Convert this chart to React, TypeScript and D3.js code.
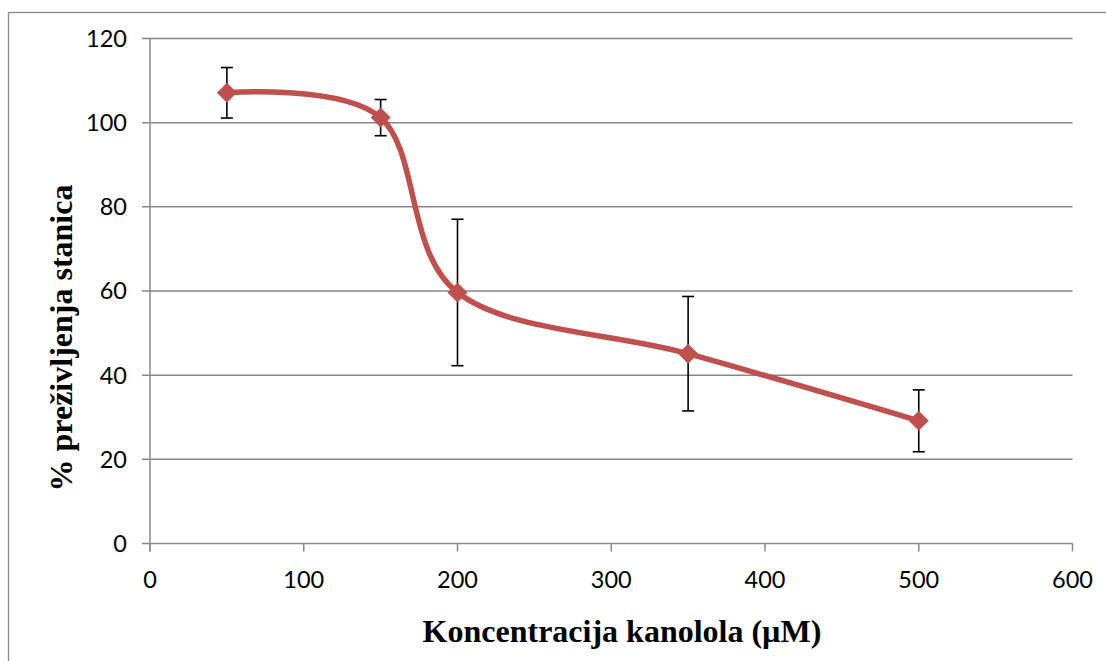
import React from "react";
import * as d3 from "d3";

const concentrations = [50, 150, 200, 350, 500];
const survival = [107.1, 101.2, 59.65, 45.1, 29.15];
const errors = [6.0, 4.3, 17.4, 13.6, 7.35];
const xTicks = [0, 100, 200, 300, 400, 500, 600];
const yTicks = [0, 20, 40, 60, 80, 100, 120];
const xTitle = "Koncentracija kanolola (µM)";
const yTitle = "% preživljenja stanica";

const W = 1106;
const H = 661;

export default function App() {
  const x = d3.scaleLinear().domain([0, 600]).range([150, 1072.5]);
  const y = d3.scaleLinear().domain([0, 120]).range([543.5, 38.5]);
  const pts = concentrations.map((c, i) => [x(c), y(survival[i])] as [number, number]);
  const line = d3.line().curve(d3.curveCardinal.tension(0));
  const grid = "#878787";
  const red = "#C0504D";
  const tickFont = "Lato, 'Open Sans', sans-serif";
  const titleFont = "'Liberation Serif', 'Times New Roman', serif";
  const m = 10;
  return (
    <svg width={W} height={H} style={{ position: "absolute", left: 0, top: 0, background: "#fff" }}>
      <rect x={8.5} y={12.5} width={1200} height={800} fill="#fff" stroke="#8a8a8a" strokeWidth={1.3} />
      {yTicks.map((t) => (
        <g key={"y" + t}>
          <line x1={142} x2={x(600)} y1={y(t)} y2={y(t)} stroke={grid} strokeWidth={1.5} />
          <text x={127} y={y(t)} dy="0.36em" textAnchor="end" fontFamily={tickFont} fontSize={23.5} fill="#000">
            {t}
          </text>
        </g>
      ))}
      <line x1={x(0)} x2={x(0)} y1={y(120)} y2={y(0) + 8} stroke={grid} strokeWidth={1.5} />
      {xTicks.map((t) => (
        <g key={"x" + t}>
          <line x1={x(t)} x2={x(t)} y1={y(0)} y2={y(0) + 8} stroke={grid} strokeWidth={1.5} />
          <text x={x(t)} y={588} textAnchor="middle" fontFamily={tickFont} fontSize={23.5} fill="#000">
            {t}
          </text>
        </g>
      ))}
      <path d={line(pts) || ""} fill="none" stroke={red} strokeWidth={5.5} strokeLinejoin="round" strokeLinecap="round" />
      {concentrations.map((c, i) => {
        const cx = x(c);
        const top = y(survival[i] + errors[i]);
        const bot = y(survival[i] - errors[i]);
        return (
          <g key={"e" + c}>
            <line x1={cx} x2={cx} y1={top} y2={bot} stroke="#000" strokeWidth={1.6} />
            <line x1={cx - 6} x2={cx + 6} y1={top} y2={top} stroke="#000" strokeWidth={1.6} />
            <line x1={cx - 6} x2={cx + 6} y1={bot} y2={bot} stroke="#000" strokeWidth={1.6} />
          </g>
        );
      })}
      {pts.map(([px, py], i) => (
        <path
          key={"m" + i}
          d={`M${px},${py - m}L${px + m},${py}L${px},${py + m}L${px - m},${py}Z`}
          fill={red}
        />
      ))}
      <text x={622} y={642} textAnchor="middle" fontFamily={titleFont} fontWeight="bold" fontSize={32} fill="#000">
        {xTitle}
      </text>
      <text
        transform={`translate(72,338) rotate(-90)`}
        textAnchor="middle"
        fontFamily={titleFont}
        fontWeight="bold"
        fontSize={32}
        fill="#000"
      >
        {yTitle}
      </text>
    </svg>
  );
}
